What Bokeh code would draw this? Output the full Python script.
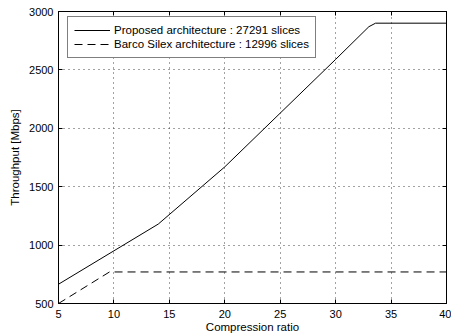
from bokeh.plotting import figure
from bokeh.models import (Range1d, LinearAxis, FixedTicker, Legend, LegendItem,
                          CustomLabelingPolicy)
from bokeh.embed import file_html
from bokeh.resources import INLINE

# data
ratio_proposed = [5, 14, 20, 25, 30, 33.0, 33.6, 40]
thr_proposed = [665, 1180, 1670, 2130, 2590, 2870, 2900, 2900]
ratio_barco = [5, 9.6, 40]
thr_barco = [500, 770, 770]
x_ticks = [5, 10, 15, 20, 25, 30, 35, 40]
y_ticks = [500, 1000, 1500, 2000, 2500, 3000]
label_proposed = "Proposed architecture : 27291 slices"
label_barco = "Barco Silex architecture : 12996 slices"

FONT = "Liberation Sans"

p = figure(width=451, height=335, output_backend="svg", toolbar_location=None,
           x_range=Range1d(5, 40), y_range=Range1d(500, 3000),
           min_border_left=58, min_border_right=5, min_border_top=11, min_border_bottom=32,
           frame_width=388, frame_height=292)
p.background_fill_color = "white"
p.border_fill_color = "white"
p.outline_line_color = "black"
p.outline_line_width = 1

r1 = p.line(ratio_proposed, thr_proposed, line_color="black", line_width=1)
r2 = p.line(ratio_barco, thr_barco, line_color="black", line_width=1, line_dash="8 5")

for ax in (p.xaxis[0], p.yaxis[0]):
    ax.major_tick_in = 4
    ax.major_tick_out = 0
    ax.minor_tick_in = 0
    ax.minor_tick_out = 0
    ax.axis_line_color = "black"
    ax.major_tick_line_color = "black"
    ax.major_label_text_font = FONT
    ax.major_label_text_font_size = "11px"
    ax.major_label_text_color = "black"
    ax.axis_label_text_font = FONT
    ax.axis_label_text_font_size = "11.5px"
    ax.axis_label_text_font_style = "normal"
    ax.axis_label_text_color = "black"

p.xaxis[0].ticker = FixedTicker(ticks=x_ticks)
p.yaxis[0].ticker = FixedTicker(ticks=y_ticks)
p.xaxis[0].axis_label = "Compression ratio"
p.yaxis[0].axis_label = "Throughput [Mbps]"
p.xaxis[0].major_label_standoff = 6
p.xaxis[0].axis_label_standoff = 0
p.yaxis[0].major_label_standoff = 5
p.yaxis[0].axis_label_standoff = 5

# mirrored ticks on top and right (no labels drawn)
for loc, ticks in (("above", x_ticks), ("right", y_ticks)):
    ax = LinearAxis(ticker=FixedTicker(ticks=ticks))
    ax.major_tick_in = 4
    ax.major_tick_out = 0
    ax.minor_tick_in = 0
    ax.minor_tick_out = 0
    ax.major_label_text_font_size = "0px"
    ax.major_label_standoff = 0
    ax.major_label_policy = CustomLabelingPolicy(
        code="for (const i of indices) { indices.unset(i) }\nreturn indices")
    ax.axis_label = None
    ax.axis_line_color = "black"
    ax.major_tick_line_color = "black"
    p.add_layout(ax, loc)

for g, ticks in ((p.xgrid[0], x_ticks), (p.ygrid[0], y_ticks)):
    g.ticker = FixedTicker(ticks=ticks)
    g.grid_line_color = "#444444"
    g.grid_line_dash = "1 4"
    g.grid_line_width = 1

legend = Legend(items=[LegendItem(label=label_proposed, renderers=[r1]),
                       LegendItem(label=label_barco, renderers=[r2])],
                location=(9, 245))
legend.label_text_font = FONT
legend.label_text_font_size = "11.5px"
legend.label_text_color = "black"
legend.glyph_width = 36
legend.glyph_height = 14
legend.label_height = 14
legend.spacing = 0
legend.padding = 6
legend.margin = 0
legend.label_standoff = 4
legend.border_line_color = "black"
legend.border_line_width = 1
legend.background_fill_alpha = 1
p.add_layout(legend, "center")

open("out.html", "w").write(file_html(p, INLINE))
